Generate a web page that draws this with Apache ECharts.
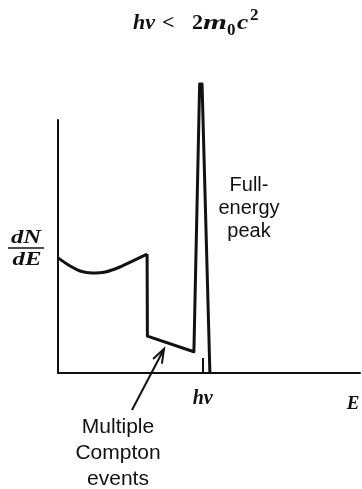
<!DOCTYPE html>
<html>
<head>
<meta charset="utf-8">
<script src="https://cdn.jsdelivr.net/npm/echarts@6/dist/echarts.min.js"></script>
<style>
  html, body { margin: 0; padding: 0; background: #fff; }
  #chart { width: 362px; height: 489px; }
</style>
</head>
<body>
<div id="chart"></div>
<script>
// Energy axis in arbitrary units (0..100), dN/dE in arbitrary units (0..100)
const continuumE = [0, 4.0, 7.3, 11.3, 15.6, 20.5, 25.5, 29.5];
const continuumN = [45.5, 42.3, 40.3, 39.5, 39.9, 41.9, 44.7, 47.0];
const edgeE = [29.5, 29.6, 45.0, 46.9, 47.7, 50.3];
const edgeN = [47.0, 14.6, 8.4, 114.2, 114.2, 0];
const hvEnergy = 47.9;
const xTickLabels = ['hν'];
const arrowFrom = [24.5, -14.6];
const arrowTo = [35.1, 9.5];

const ink = '#111';
const serif = "'Liberation Serif', 'DejaVu Serif', serif";
const sans = "'Liberation Sans', Arial, sans-serif";

const chart = echarts.init(document.getElementById('chart'), null, { renderer: 'canvas' });

function sText(id, text, x, y, size, italic, scaleX, align) {
  return {
    type: 'text', id: id, x: x, y: y, scaleX: scaleX || 1,
    style: {
      text: text, fontFamily: serif, fontStyle: italic ? 'italic' : 'normal', fontWeight: 'bold',
      fontSize: size, fill: ink, align: align || 'left', verticalAlign: 'middle'
    }
  };
}

const titleParts = [
  sText('t1', 'hν', 133, 23, 22, true),
  sText('t2', '<', 162, 23, 22, false),
  sText('t3', '2', 192, 23, 22, false),
  sText('t4', 'm', 203, 23, 22, true, 1.4),
  sText('t5', '0', 227, 31, 17, false),
  sText('t6', 'c', 237, 23, 22, true, 1.15),
  sText('t7', '2', 250, 16, 17, false)
];

const option = {
  backgroundColor: '#fff',
  animation: false,
  grid: { left: 58, right: 2, top: 120, bottom: 116, outerBoundsMode: 'none', containLabel: false },
  xAxis: {
    type: 'value',
    min: 0,
    max: 100,
    splitLine: { show: false },
    axisLine: { show: true, lineStyle: { color: ink, width: 2 } },
    axisTick: { show: true, inside: true, length: 15, customValues: [hvEnergy], lineStyle: { color: ink, width: 2 } },
    axisLabel: {
      show: true,
      customValues: [hvEnergy],
      formatter: () => xTickLabels[0],
      margin: 16,
      fontFamily: serif, fontStyle: 'italic', fontWeight: 'bold', fontSize: 20, color: ink
    },
    name: 'E',
    nameLocation: 'end',
    nameGap: -7,
    nameTextStyle: {
      fontFamily: serif, fontStyle: 'italic', fontWeight: 'bold', fontSize: 19, color: ink,
      align: 'center', verticalAlign: 'top', padding: [22, 0, 0, 0]
    }
  },
  yAxis: {
    type: 'value',
    min: 0,
    max: 100,
    splitLine: { show: false },
    axisLine: { show: true, lineStyle: { color: ink, width: 2 } },
    axisTick: { show: false },
    axisLabel: { show: false }
  },
  graphic: titleParts.concat([
    sText('dn', 'dN', 26, 238, 19, true, 1.3, 'center'),
    { type: 'line', id: 'bar', shape: { x1: 8, y1: 248, x2: 44, y2: 248 }, style: { stroke: ink, lineWidth: 1.5 } },
    sText('de', 'dE', 27, 260, 19, true, 1.3, 'center'),
    { type: 'text', id: 'fep', x: 249, y: 174, style: { text: 'Full-\nenergy\npeak', fontFamily: sans, fontSize: 20, lineHeight: 23, fill: ink, align: 'center' } },
    { type: 'text', id: 'mce', x: 118, y: 414, style: { text: 'Multiple\nCompton\nevents', fontFamily: sans, fontSize: 21, lineHeight: 26, fill: ink, align: 'center' } }
  ]),
  series: [
    {
      type: 'line',
      data: continuumE.map((e, i) => [e, continuumN[i]]),
      smooth: 0.35,
      showSymbol: false,
      clip: false,
      lineStyle: { color: ink, width: 3, join: 'round' }
    },
    {
      type: 'line',
      data: edgeE.map((e, i) => [e, edgeN[i]]),
      showSymbol: false,
      clip: false,
      lineStyle: { color: ink, width: 3, join: 'round' }
    }
  ]
};

chart.setOption(option);

// Arrow pointing at the multiple-Compton region, placed through the chart's scales
const p0 = chart.convertToPixel({ gridIndex: 0 }, arrowFrom);
const p1 = chart.convertToPixel({ gridIndex: 0 }, arrowTo);
const dx = p1[0] - p0[0], dy = p1[1] - p0[1];
const len = Math.sqrt(dx * dx + dy * dy);
const ux = dx / len, uy = dy / len;
const hl = 14, hw = 5;
const bx = p1[0] - ux * hl, by = p1[1] - uy * hl;
chart.setOption({
  graphic: [
    { type: 'line', id: 'arrowShaft', shape: { x1: p0[0], y1: p0[1], x2: p1[0], y2: p1[1] }, style: { stroke: ink, lineWidth: 2 } },
    { type: 'polyline', id: 'arrowHead', shape: { points: [[bx - uy * hw, by + ux * hw], [p1[0], p1[1]], [bx + uy * hw, by - ux * hw]] }, style: { stroke: ink, lineWidth: 2, fill: null } }
  ]
});
</script>
</body>
</html>
